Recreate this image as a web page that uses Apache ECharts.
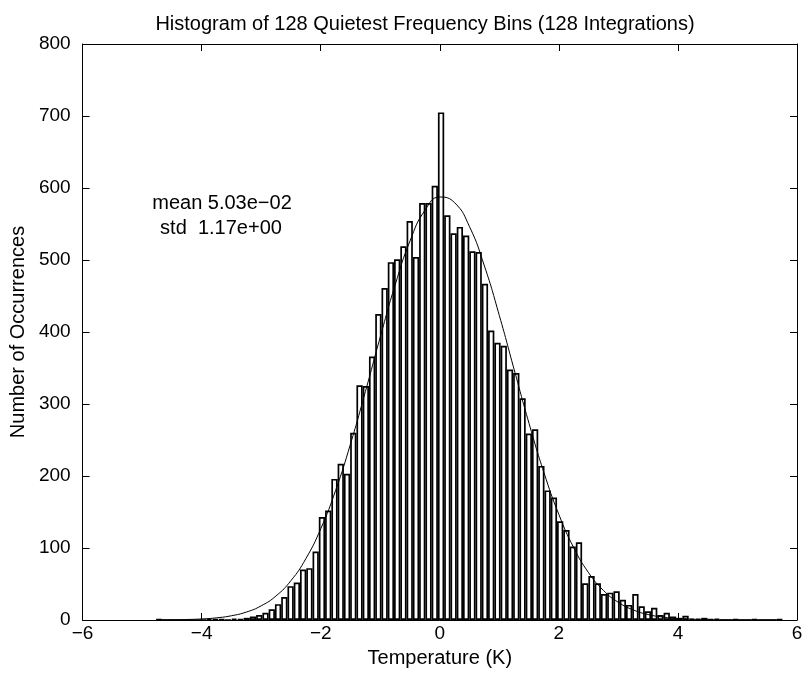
<!DOCTYPE html>
<html>
<head>
<meta charset="utf-8">
<script src="https://cdn.jsdelivr.net/npm/echarts@6/dist/echarts.min.js"></script>
<style>
html,body{margin:0;padding:0;background:#fff;}
#chart{width:807px;height:673px;}
</style>
</head>
<body>
<div id="chart"></div>
<script>
// Histogram: 100 equal-width bins between the data minimum and maximum
var binEdgeMin = -4.77;
var binEdgeMax = 5.76;
var counts = [
  1, 0, 0, 0, 0, 0, 0, 0, 2, 1,
  1, 0, 2, 1, 3, 5, 7, 10, 15, 22,
  32, 47, 52, 70, 72, 95, 143, 152, 196, 217,
  203, 260, 326, 325, 366, 425, 461, 497, 501, 519,
  554, 504, 579, 579, 603, 705, 562, 537, 546, 534,
  512, 511, 467, 402, 385, 381, 348, 343, 308, 259,
  265, 214, 180, 170, 137, 125, 102, 108, 51, 61,
  51, 36, 38, 40, 28, 21, 36, 19, 12, 17,
  7, 10, 5, 3, 6, 2, 2, 3, 1, 2,
  0, 0, 1, 0, 0, 1, 0, 0, 0, 1
];
// Fitted normal curve, sampled points
var fitX = [-4.75,-4.5,-4.25,-4,-3.75,-3.5,-3.25,-3,-2.75,-2.5,-2.25,-2,-1.75,-1.5,-1.25,-1,-0.75,-0.5,-0.25,0,0.25,0.5,0.75,1,1.25,1.5,1.75,2,2.25,2.5,2.75,3,3.25,3.5,3.75,4,4.25,4.5,4.75,5,5.25,5.5,5.75];
var fitY = [0.13,0.31,0.69,1.47,3.0,5.9,11.0,19.7,33.5,54.7,85.2,126.7,180.0,244.5,317.2,393.1,465.4,526.5,569.0,587.5,579.5,546.1,491.6,422.9,347.5,272.8,204.6,146.6,100.4,65.6,41.0,24.5,14.0,7.6,4.0,2.0,0.93,0.42,0.18,0.08,0.03,0.01,0.0];
var xTicks = [-6, -4, -2, 0, 2, 4, 6];
var yTicks = [0, 100, 200, 300, 400, 500, 600, 700, 800];
var titleText = 'Histogram of 128 Quietest Frequency Bins (128 Integrations)';
var xLabel = 'Temperature (K)';
var yLabel = 'Number of Occurrences';
var statLines = ['mean 5.03e\u221202', 'std  1.17e+00'];

var binWidth = (binEdgeMax - binEdgeMin) / counts.length;
var barData = counts.map(function (c, i) { return [binEdgeMin + (i + 0.5) * binWidth, c]; });
var fitData = fitX.map(function (x, i) { return [x, fitY[i]]; });

var FONT = '"Liberation Sans", Arial, Helvetica, sans-serif';
var TXT = 20;
var TICK = 19;
var chart = echarts.init(document.getElementById('chart'), null, {renderer: 'canvas'});

function fmtMinus(v) { return String(v).replace('-', '\u2212'); }

var axisCommon = {
  type: 'value',
  axisLine: {show: true, onZero: false, lineStyle: {color: '#000', width: 1}},
  axisTick: {show: true, inside: true, length: 7, lineStyle: {color: '#000', width: 1}},
  splitLine: {show: false}
};

var option = {
  animation: false,
  backgroundColor: '#fff',
  grid: {left: 79, top: 44, width: 718, height: 577, containLabel: false},
  xAxis: [
    Object.assign({}, axisCommon, {
      min: xTicks[0], max: xTicks[xTicks.length - 1], interval: 2, position: 'bottom',
      axisLabel: {color: '#000', fontSize: TICK, fontFamily: FONT, margin: 4, formatter: fmtMinus},
      name: xLabel, nameLocation: 'middle', nameGap: 28,
      nameTextStyle: {color: '#000', fontSize: TXT, fontFamily: FONT}
    }),
    Object.assign({}, axisCommon, {
      min: xTicks[0], max: xTicks[xTicks.length - 1], interval: 2, position: 'top',
      axisLabel: {show: false}
    })
  ],
  yAxis: [
    Object.assign({}, axisCommon, {
      min: yTicks[0], max: yTicks[yTicks.length - 1], interval: 100, position: 'left',
      axisLabel: {color: '#000', fontSize: TICK, fontFamily: FONT, margin: 12},
      name: yLabel, nameLocation: 'middle', nameGap: 54,
      nameTextStyle: {color: '#000', fontSize: TXT, fontFamily: FONT}
    }),
    Object.assign({}, axisCommon, {
      min: yTicks[0], max: yTicks[yTicks.length - 1], interval: 100, position: 'right',
      axisLabel: {show: false}
    })
  ],
  series: [
    {
      type: 'bar', xAxisIndex: 0, yAxisIndex: 0,
      data: barData,
      barWidth: 6.3,
      itemStyle: {color: '#fff', borderColor: '#000', borderWidth: 1.7},
      emphasis: {disabled: true},
      z: 2
    },
    {
      type: 'line', xAxisIndex: 0, yAxisIndex: 0,
      data: fitData,
      smooth: 0.5,
      symbol: 'none',
      lineStyle: {color: '#000', width: 1},
      z: 3
    }
  ],
  graphic: [
    {type: 'text', x: 425, y: 14,
     style: {text: titleText, fill: '#000', font: TXT + 'px ' + FONT, textAlign: 'center', textVerticalAlign: 'top'}},
    {type: 'text', x: 222, y: 203,
     style: {text: statLines[0], fill: '#000', font: TXT + 'px ' + FONT, textAlign: 'center', textVerticalAlign: 'middle'}},
    {type: 'text', x: 221, y: 228,
     style: {text: statLines[1], fill: '#000', font: TXT + 'px ' + FONT, textAlign: 'center', textVerticalAlign: 'middle'}}
  ]
};
chart.setOption(option);
</script>
</body>
</html>
